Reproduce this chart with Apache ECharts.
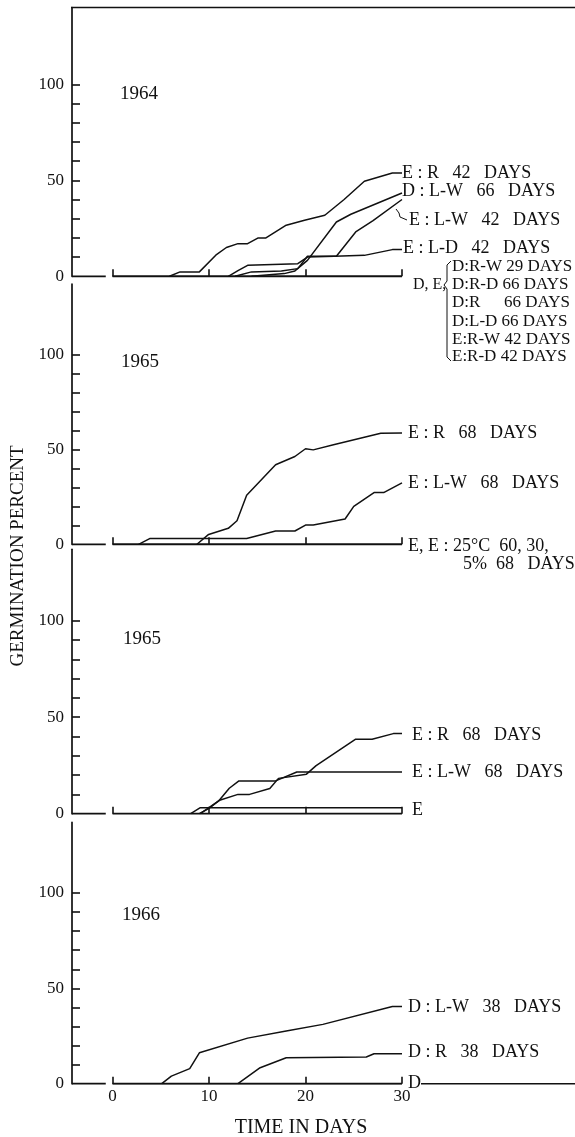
<!DOCTYPE html>
<html>
<head>
<meta charset="utf-8">
<script src="https://cdn.jsdelivr.net/npm/echarts@6/dist/echarts.min.js"></script>
<style>
html,body{margin:0;padding:0;background:#fff;}
#chart{width:575px;height:1137px;}
</style>
</head>
<body>
<div id="chart"></div>
<script>
// ---- data ----
const xTickValues = [0, 10, 20, 30];
const xLabelValues = [0, 10, 20, 30];
const yTickValues = [10, 20, 30, 40, 50, 60, 70, 80, 90, 100];
const yLabelValues = [0, 50, 100];
const baselineLeft = [[-4.2, 0], [-0.7, 0]];
const baselineMain = [[0, 0], [30, 0]];

// 1964
const p1_ER_42 = [[5.9,0],[7,2.3],[9,2.3],[10.7,11],[11.8,15],[13,17],[14,17],[15.1,20],[15.9,20],[18,26.6],[19.9,29.2],[22,31.8],[24,40],[26.1,49.5],[29,53.8],[30,53.8]];
const p1_DLW_66 = [[14.4,0],[17.8,1.4],[18.9,2.8],[20.2,8.3],[23.2,28.3],[24.7,32.3],[30,43.4]];
const p1_ELW_42 = [[12.7,0],[14.4,2.3],[17.5,2.8],[19.2,4],[20.2,10.4],[23.2,10.4],[25.2,23.1],[27,29],[30,40]];
const p1_ELD_42 = [[12,0],[13,3],[14,5.7],[19.2,6.6],[20.2,10],[23,10.5],[26.1,10.9],[29,13.9],[30,13.9]];
const p1_DE_zero = [[0,0],[30,0]];

// 1965 (a)
const p2_ER_68 = [[8.75,0],[9.96,5.2],[12,8.4],[12.9,12.4],[13.9,25.8],[16.9,41.9],[18.9,46.2],[20,50.3],[20.8,49.7],[22.9,52.4],[27.8,58.5],[30,58.6]];
const p2_ELW_68 = [[2.7,0],[3.9,3.1],[13.9,3.1],[16.9,7],[18.9,7],[20,10.1],[20.8,10.1],[24.1,13.3],[25,20],[27.1,27.2],[28.1,27.2],[30,32.3]];
const p2_EE_zero = [[0,0],[30,0]];

// 1965 (b)
const p3_ER_68 = [[9,0],[10,2.8],[11.1,7],[13,10],[14.2,10],[16.3,13.1],[17.2,18.3],[20.1,20.5],[21.1,24.9],[25.2,38.6],[26.9,38.6],[29.1,41.5],[30,41.5]];
const p3_ELW_68 = [[9.1,0],[11,6.6],[12.1,13.2],[13.1,17],[16.9,17],[19.1,21.6],[30,21.6]];
const p3_E = [[8.1,0],[9.1,3.1],[30,3.1]];

// 1966
const p4_DLW_38 = [[5.1,0],[6.1,4],[8,7.9],[9,16.2],[14,23.9],[18,27.6],[21.8,31.1],[29,40.5],[30,40.5]];
const p4_DR_38 = [[13,0],[15.3,8.4],[18,13.6],[26.3,14],[27.1,15.7],[30,15.7]];
const p4_D_zero = [[0,0],[30,0]];

const panelSeries = [
  [p1_ER_42, p1_DLW_66, p1_ELW_42, p1_ELD_42, p1_DE_zero],
  [p2_ER_68, p2_ELW_68, p2_EE_zero],
  [p3_ER_68, p3_ELW_68, p3_E],
  [p4_DLW_38, p4_DR_38, p4_D_zero]
];
const yMaxes = [140, 137, 137, 137];

// ---- layout ----
const grids = [
  {left: 72, width: 330, top: 7.5, height: 268.8},
  {left: 72, width: 330, top: 284, height: 260.3},
  {left: 72, width: 330, top: 549.3, height: 264.4},
  {left: 72, width: 330, top: 822.4, height: 261.3}
];
const INK = '#111111';
const SERIF = '"Liberation Serif", "Times New Roman", serif';

const xAxes = grids.map((g, i) => ({
  type: 'value', gridIndex: i, min: -4.2, max: 30,
  axisLine: {show: false},
  axisTick: {show: true, inside: true, length: 7, customValues: xTickValues, lineStyle: {color: INK, width: 1.6}},
  axisLabel: {show: i === 3, customValues: xLabelValues, margin: 4, fontSize: 17, fontFamily: SERIF, color: INK},
  splitLine: {show: false}
}));
const yAxes = grids.map((g, i) => ({
  type: 'value', gridIndex: i, min: 0, max: yMaxes[i],
  axisLine: {show: true, onZero: false, lineStyle: {color: INK, width: 1.7}},
  axisTick: {show: true, inside: true, length: 8, customValues: yTickValues, lineStyle: {color: INK, width: 1.6}},
  axisLabel: {show: true, customValues: yLabelValues, margin: 8, fontSize: 17, fontFamily: SERIF, color: INK},
  splitLine: {show: false}
}));

const series = [];
grids.forEach((g, i) => {
  [baselineLeft, baselineMain].forEach(d => series.push({
    type: 'line', xAxisIndex: i, yAxisIndex: i, data: d, showSymbol: false, silent: true,
    lineStyle: {color: INK, width: 1.7}, clip: false
  }));
  panelSeries[i].forEach(d => series.push({
    type: 'line', xAxisIndex: i, yAxisIndex: i, data: d, showSymbol: false, silent: true,
    lineStyle: {color: INK, width: 1.5}
  }));
});

function txt(x, y, text, size, align) {
  return {type: 'text', x: x, y: y, silent: true,
    style: {text: text, font: size + 'px ' + SERIF, fill: INK,
      align: align || 'left', verticalAlign: 'middle',
      textAlign: align || 'left', textVerticalAlign: 'middle'}};
}
function line(pts, w) {
  return {type: 'polyline', silent: true, shape: {points: pts},
    style: {stroke: INK, lineWidth: w || 1.3, fill: null}};
}

const graphics = [
  line([[71, 7.5], [575, 7.5]], 1.5),
  // year labels
  txt(120, 94, '1964', 19), txt(121, 362, '1965', 19), txt(123, 639, '1965', 19), txt(122, 915, '1966', 19),
  // panel 1 labels
  txt(402, 173, 'E : R   42   DAYS', 18),
  txt(402, 191, 'D : L-W   66   DAYS', 18),
  line([[396, 209], [399, 213], [400, 217], [407, 220]], 1),
  txt(409, 220, 'E : L-W   42   DAYS', 18),
  txt(403, 248, 'E : L-D   42   DAYS', 18),
  txt(413, 285, 'D, E,', 16),
  line([[451, 261], [447, 265], [447, 281], [444, 285], [447, 289], [447, 357], [451, 361]], 1),
  txt(452, 267, 'D:R-W 29 DAYS', 17),
  txt(452, 285, 'D:R-D 66 DAYS', 17),
  txt(452, 303, 'D:R', 17), txt(570, 303, '66 DAYS', 17, 'right'),
  txt(452, 322, 'D:L-D 66 DAYS', 17),
  txt(452, 340, 'E:R-W 42 DAYS', 17),
  txt(452, 357, 'E:R-D 42 DAYS', 17),
  // panel 2 labels
  txt(408, 433, 'E : R   68   DAYS', 18),
  txt(408, 483, 'E : L-W   68   DAYS', 18),
  txt(408, 546, 'E, E : 25°C  60, 30,', 18),
  txt(463, 564, '5%  68   DAYS', 18),
  // panel 3 labels
  txt(412, 735, 'E : R   68   DAYS', 18),
  txt(412, 772, 'E : L-W   68   DAYS', 18),
  txt(412, 810, 'E', 18),
  // panel 4 labels
  txt(408, 1007, 'D : L-W   38   DAYS', 18),
  txt(408, 1052, 'D : R   38   DAYS', 18),
  txt(408, 1083, 'D', 18),
  line([[421, 1083.7], [575, 1083.7]], 1.5),
  // axis titles
  txt(301, 1128, 'TIME IN DAYS', 20, 'center'),
  {type: 'text', x: 18, y: 556, rotation: Math.PI / 2, silent: true,
    style: {text: 'GERMINATION PERCENT', font: '19px ' + SERIF, fill: INK,
      align: 'center', verticalAlign: 'middle', textAlign: 'center', textVerticalAlign: 'middle'}}
];

const chart = echarts.init(document.getElementById('chart'), null, {renderer: 'canvas'});
chart.setOption({
  animation: false,
  backgroundColor: '#ffffff',
  grid: grids,
  xAxis: xAxes,
  yAxis: yAxes,
  series: series,
  graphic: graphics
});
</script>
</body>
</html>
